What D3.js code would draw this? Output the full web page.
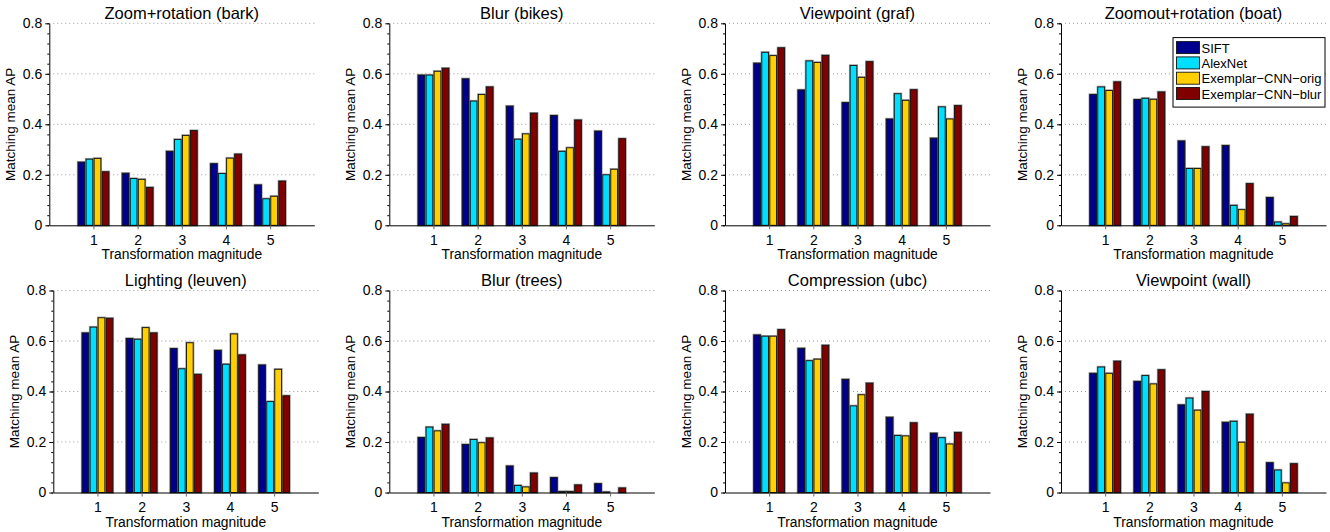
<!DOCTYPE html>
<html>
<head>
<meta charset="utf-8">
<script src="https://cdn.jsdelivr.net/npm/d3@7"></script>
<style>
  body { margin: 0; background: #fff; }
  svg { display: block; font-family: "Liberation Sans", Arial, Helvetica, sans-serif; }
  .grid line { stroke: #9a9a9a; stroke-dasharray: 1,3; }
</style>
</head>
<body>
<div id="chart"></div>
<script>

// Series names (legend order) and colours
var seriesNames = ["SIFT", "AlexNet", "Exemplar\u2212CNN\u2212orig", "Exemplar\u2212CNN\u2212blur"];
var seriesColors = ["#00008f", "#00dfff", "#ffcf00", "#800000"];

// Transformation magnitudes on the x axis
var magnitudes = [1, 2, 3, 4, 5];
var yTicks = [0, 0.2, 0.4, 0.6, 0.8];

var panelTitles = [
    "Zoom+rotation (bark)", "Blur (bikes)", "Viewpoint (graf)", "Zoomout+rotation (boat)",
    "Lighting (leuven)", "Blur (trees)", "Compression (ubc)", "Viewpoint (wall)"
];

// Matching mean AP, one row per magnitude: [SIFT, AlexNet, orig, blur]
var bark = [
    [0.250, 0.262, 0.265, 0.212],
    [0.206, 0.185, 0.182, 0.150],
    [0.293, 0.340, 0.356, 0.375],
    [0.244, 0.205, 0.266, 0.282],
    [0.160, 0.105, 0.115, 0.175]
];
var bikes = [
    [0.595, 0.595, 0.610, 0.622],
    [0.580, 0.492, 0.518, 0.548],
    [0.472, 0.341, 0.362, 0.444],
    [0.435, 0.293, 0.307, 0.417],
    [0.373, 0.200, 0.222, 0.343]
];
var graf = [
    [0.642, 0.685, 0.672, 0.703],
    [0.536, 0.651, 0.645, 0.673],
    [0.486, 0.633, 0.586, 0.648],
    [0.421, 0.521, 0.495, 0.537],
    [0.345, 0.469, 0.421, 0.474]
];
var boat = [
    [0.518, 0.548, 0.534, 0.568],
    [0.498, 0.503, 0.499, 0.528],
    [0.334, 0.225, 0.225, 0.311],
    [0.316, 0.079, 0.062, 0.165],
    [0.110, 0.013, 0.006, 0.035]
];
var leuven = [
    [0.632, 0.655, 0.692, 0.690],
    [0.610, 0.607, 0.653, 0.632],
    [0.570, 0.490, 0.593, 0.468],
    [0.563, 0.508, 0.628, 0.545],
    [0.505, 0.360, 0.488, 0.383]
];
var trees = [
    [0.218, 0.259, 0.244, 0.270],
    [0.190, 0.210, 0.197, 0.216],
    [0.105, 0.028, 0.022, 0.077],
    [0.059, 0.004, 0.004, 0.030],
    [0.035, 0.002, 0.000, 0.018]
];
var ubc = [
    [0.624, 0.619, 0.619, 0.645],
    [0.571, 0.522, 0.528, 0.583],
    [0.448, 0.343, 0.387, 0.433],
    [0.298, 0.226, 0.224, 0.276],
    [0.235, 0.217, 0.192, 0.238]
];
var wall = [
    [0.472, 0.497, 0.472, 0.520],
    [0.440, 0.463, 0.430, 0.486],
    [0.347, 0.374, 0.326, 0.400],
    [0.278, 0.282, 0.199, 0.310],
    [0.118, 0.089, 0.038, 0.114]
];

var panelData = [bark, bikes, graf, boat, leuven, trees, ubc, wall];

// Layout (pixels)
var W = 1330, H = 532;
var plotW = 265, plotH = 202;
var lefts = [[49.3, 389.3, 725, 1061], [53.3, 389.3, 725, 1061]];
var tops = [23.3, 290.5];
var slot = 0.182, barW = 0.152;   // in x units

var svg = d3.select("#chart").append("svg")
    .attr("width", W)
    .attr("height", H);

panelData.forEach(function(data, i) {
    var row = Math.floor(i / 4), col = i % 4;
    var left = lefts[row][col], top = tops[row];

    var g = svg.append("g")
        .attr("transform", "translate(" + left + "," + top + ")");

    var x = d3.scaleLinear().domain([0, 6]).range([0, plotW]);
    var y = d3.scaleLinear().domain([0, 0.8]).range([plotH, 0]);

    // dotted grid
    g.append("g").attr("class", "grid")
        .selectAll("line")
        .data(yTicks.slice(1))
        .enter().append("line")
        .attr("x1", 0).attr("x2", plotW)
        .attr("y1", function(d) { return y(d); })
        .attr("y2", function(d) { return y(d); });

    // bars
    var groups = g.selectAll("g.grp")
        .data(data)
        .enter().append("g")
        .attr("class", "grp");

    var rects = groups.selectAll("rect")
        .data(function(d, k) {
            return d.map(function(v, j) { return { m: magnitudes[k], s: j, v: v }; });
        })
        .enter();

    // soft grey halo round each bar
    rects.append("rect")
        .attr("x", function(d) { return x(d.m + (d.s - 1.5) * slot - barW / 2); })
        .attr("y", function(d) { return y(d.v); })
        .attr("width", x(barW) - x(0))
        .attr("height", function(d) { return y(0) - y(d.v); })
        .attr("fill", "none")
        .attr("stroke", "#a0a0a0")
        .attr("stroke-width", 2.4);

    rects.append("rect")
        .attr("x", function(d) { return x(d.m + (d.s - 1.5) * slot - barW / 2); })
        .attr("y", function(d) { return y(d.v); })
        .attr("width", x(barW) - x(0))
        .attr("height", function(d) { return y(0) - y(d.v); })
        .attr("fill", function(d) { return seriesColors[d.s]; })
        .attr("stroke", "#111")
        .attr("stroke-width", 0.9);

    // axes
    var yMinor = d3.range(0, 0.8001, 0.04);
    g.append("g")
        .call(d3.axisLeft(y).tickValues(yMinor).tickSize(2).tickSizeOuter(0).tickFormat(""))
        .call(function(a) { a.select(".domain").remove(); });

    var yAxis = g.append("g")
        .call(d3.axisLeft(y).tickValues(yTicks).tickSize(4).tickSizeOuter(0).tickPadding(3)
            .tickFormat(function(d) { return d === 0 ? "0" : d3.format(".1f")(d); }));

    var xAxis = g.append("g")
        .attr("transform", "translate(0," + plotH + ")")
        .call(d3.axisBottom(x).tickValues(magnitudes).tickSize(4).tickSizeOuter(0).tickPadding(6)
            .tickFormat(d3.format("d")));

    g.selectAll(".tick text")
        .attr("font-size", 14)
        .attr("font-family", "Liberation Sans, Arial, sans-serif")
        .attr("fill", "#000");
    g.selectAll(".domain").attr("stroke", "#000");
    g.selectAll(".tick line").attr("stroke", "#000");
    xAxis.selectAll(".tick line").attr("stroke", "#666");

    // labels
    g.append("text")
        .attr("x", plotW / 2)
        .attr("y", -4.5)
        .attr("text-anchor", "middle")
        .attr("font-size", 16.5)
        .text(panelTitles[i]);

    g.append("text")
        .attr("x", plotW / 2)
        .attr("y", plotH + 34)
        .attr("text-anchor", "middle")
        .attr("font-size", 13.8)
        .text("Transformation magnitude");

    g.append("text")
        .attr("transform", "translate(-34.5," + (plotH / 2) + ") rotate(-90)")
        .attr("text-anchor", "middle")
        .attr("font-size", 13.5)
        .text("Matching mean AP");

    // legend in the boat panel
    if (i === 3) {
        var lg = g.append("g")
            .attr("transform", "translate(" + (plotW - 153) + ",14.3)");
        lg.append("rect")
            .attr("x", 0).attr("y", 0)
            .attr("width", 152).attr("height", 69.5)
            .attr("fill", "#fff")
            .attr("stroke", "#000")
            .attr("stroke-width", 1);

        var items = lg.selectAll("g.item")
            .data(seriesNames)
            .enter().append("g")
            .attr("class", "item")
            .attr("transform", function(d, j) { return "translate(3.5," + (4 + j * 15.3) + ")"; });

        items.append("rect")
            .attr("width", 23).attr("height", 12)
            .attr("fill", function(d, j) { return seriesColors[j]; })
            .attr("stroke", "#111")
            .attr("stroke-width", 0.9);

        items.append("text")
            .attr("x", 25)
            .attr("y", 11)
            .attr("font-size", 13)
            .text(function(d) { return d; });
    }
});

</script>
</body>
</html>
